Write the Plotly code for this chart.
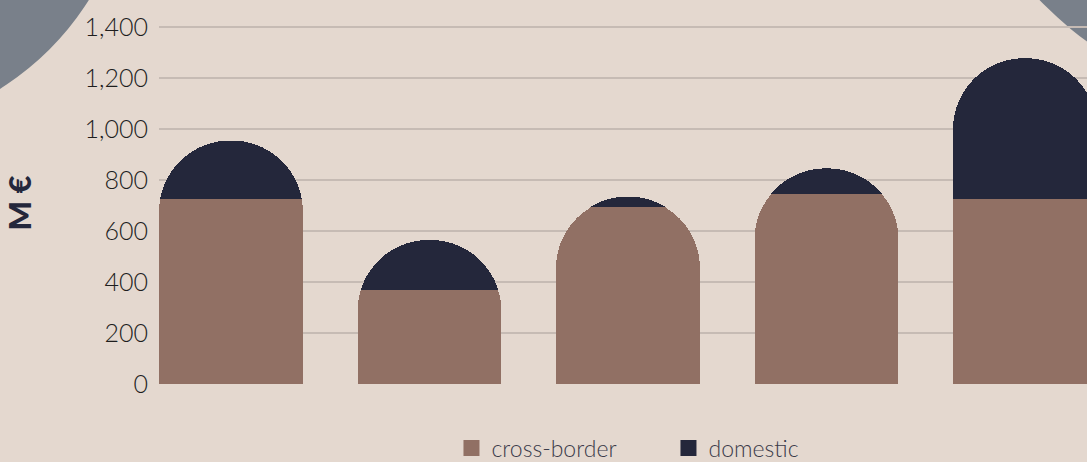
import plotly.graph_objects as go

categories = ["A", "B", "C", "D", "E"]
cross_border = [725, 370, 693, 746, 725]
domestic = [230, 195, 42, 100, 553]
tick_vals = [0, 200, 400, 600, 800, 1000, 1200, 1400]
tick_text = ["0", "200", "400", "600", "800", "1,000", "1,200", "1,400"]

W, H = 1087, 462
Y_MAX = 1420
L, R, B = 159, 0, 78
scale = 357 / 1400  # px per unit
ph = Y_MAX * scale
T = H - B - ph
pw = W - L - R

BG = "#e4d8cf"
BROWN = "#917064"
NAVY = "#24273b"
GRAY = "#79808a"
GRID = "#c6bbb4"
FONT = "Lato"


def px_to_paper(x, y):
    return (x - L) / pw, (H - B - y) / ph


def circle(cx, cy, r):
    x0, y0 = px_to_paper(cx - r, cy + r)
    x1, y1 = px_to_paper(cx + r, cy - r)
    return dict(type="circle", xref="paper", yref="paper", x0=x0, x1=x1, y0=y0, y1=y1,
                fillcolor=GRAY, line=dict(width=0), layer="below")


fig = go.Figure()
fig.add_trace(go.Bar(name="cross-border", x=categories, y=cross_border, showlegend=False,
                     marker=dict(color=BROWN, line=dict(width=0))))
fig.add_trace(go.Bar(name="domestic", x=categories, y=domestic, showlegend=False,
                     marker=dict(color=NAVY, line=dict(width=0))))
# legend entries (square swatches)
fig.add_trace(go.Scatter(name="cross-border", x=[None], y=[None], mode="markers",
                         marker=dict(symbol="square", size=16, color=BROWN)))
fig.add_trace(go.Scatter(name="domestic", x=[None], y=[None], mode="markers",
                         marker=dict(symbol="square", size=16, color=NAVY)))

spacing = 198.5
c0 = 231
fig.update_layout(
    width=W, height=H,
    margin=dict(l=L, r=R, t=T, b=B, autoexpand=False),
    paper_bgcolor=BG, plot_bgcolor="rgba(0,0,0,0)",
    barmode="stack", bargap=0.275, barcornerradius="50%",
    font=dict(family=FONT, color="#222222"),
    showlegend=True,
    legend=dict(orientation="h", x=0.549, xanchor="center",
                yref="container", y=0.03, yanchor="middle",
                font=dict(size=23, color="#3b3b4a", weight=300, family=FONT),
                bgcolor="rgba(0,0,0,0)", entrywidth=172, traceorder="normal"),
    xaxis=dict(range=[(L - c0) / spacing, (W - c0) / spacing], showticklabels=False,
               showgrid=False, zeroline=False, showline=False, fixedrange=True),
    yaxis=dict(range=[0, Y_MAX], tickvals=tick_vals, ticktext=tick_text,
               showgrid=True, gridcolor=GRID, gridwidth=2, zeroline=False, showline=False,
               tickfont=dict(size=25, color="#1e1e1e", weight=300, family=FONT),
               ticklabelstandoff=10, automargin=False,
               title=dict(text="M €", font=dict(size=31, color=NAVY, weight=900, family=FONT),
                          standoff=50)),
    shapes=[circle(-150, -150, 282), circle(1300, -250, 361)],
)

fig.write_html(
    "out.html",
    config={"displayModeBar": False},
    post_script="document.body.style.margin='0';document.body.style.background='%s';" % BG,
)
